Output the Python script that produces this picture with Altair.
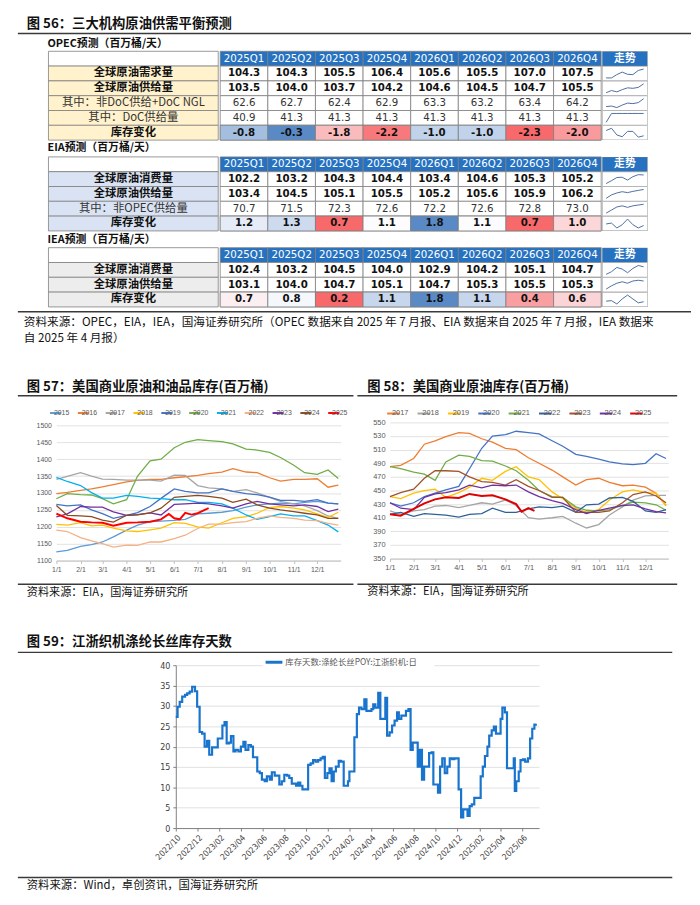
import altair as alt
import numpy as np
import pandas as pd

# ---------------- 图56 表格数据 ----------------
quarters = ["2025Q1", "2025Q2", "2025Q3", "2025Q4", "2026Q1", "2026Q2", "2026Q3", "2026Q4"]

opec_names = ["全球原油需求量", "全球原油供给量", "其中：非DoC供给+DoC NGL", "其中：DoC供给量", "库存变化"]
opec_bold = [True, True, False, False, True]
opec_demand = [104.3, 104.3, 105.5, 106.4, 105.6, 105.5, 107.0, 107.5]
opec_supply = [103.5, 104.0, 103.7, 104.2, 104.6, 104.5, 104.7, 105.5]
opec_nondoc = [62.6, 62.7, 62.4, 62.9, 63.3, 63.2, 63.4, 64.2]
opec_doc = [40.9, 41.3, 41.3, 41.3, 41.3, 41.3, 41.3, 41.3]
opec_inv = [-0.8, -0.3, -1.8, -2.2, -1.0, -1.0, -2.3, -2.0]

eia_names = ["全球原油消费量", "全球原油供给量", "其中：非OPEC供给量", "库存变化"]
eia_bold = [True, True, False, True]
eia_demand = [102.2, 103.2, 104.3, 104.4, 103.4, 104.6, 105.3, 105.2]
eia_supply = [103.4, 104.5, 105.1, 105.5, 105.2, 105.6, 105.9, 106.2]
eia_nonopec = [70.7, 71.5, 72.3, 72.6, 72.2, 72.6, 72.8, 73.0]
eia_inv = [1.2, 1.3, 0.7, 1.1, 1.8, 1.1, 0.7, 1.0]

iea_names = ["全球原油消费量", "全球原油供给量", "库存变化"]
iea_bold = [True, True, True]
iea_demand = [102.4, 103.2, 104.5, 104.0, 102.9, 104.2, 105.1, 104.7]
iea_supply = [103.1, 104.0, 104.7, 105.1, 104.7, 105.3, 105.5, 105.3]
iea_inv = [0.7, 0.8, 0.2, 1.1, 1.8, 1.1, 0.4, 0.6]

# ---------------- 图57 美国商业原油和油品库存 ----------------
semi_dates = ["01-01", "01-15", "02-01", "02-15", "03-01", "03-15", "04-01", "04-15", "05-01",
              "05-15", "06-01", "06-15", "07-01", "07-15", "08-01", "08-15", "09-01", "09-15",
              "10-01", "10-15", "11-01", "11-15", "12-01", "12-15", "12-28"]
c57_years = ["2015", "2016", "2017", "2018", "2019", "2020", "2021", "2022", "2023", "2024", "2025"]
c57_colors = ["#5B9BD5", "#ED7D31", "#A5A5A5", "#FFC000", "#4472C4", "#70AD47", "#00B0F0",
              "#F4B183", "#7030A0", "#8C4A1C", "#FF0000"]
c57_2015 = [1126, 1130, 1142, 1147, 1155, 1170, 1190, 1205, 1215, 1217, 1219, 1222, 1238, 1240, 1243, 1248, 1258, 1265, 1268, 1270, 1268, 1272, 1275, 1270, 1268]
c57_2016 = [1298, 1302, 1308, 1312, 1318, 1325, 1333, 1337, 1340, 1340, 1345, 1348, 1352, 1357, 1362, 1372, 1362, 1360, 1345, 1335, 1340, 1340, 1342, 1317, 1323]
c57_2017 = [1340, 1349, 1360, 1350, 1341, 1340, 1338, 1338, 1338, 1335, 1353, 1352, 1322, 1315, 1312, 1305, 1310, 1300, 1287, 1275, 1268, 1262, 1248, 1232, 1225]
c57_2018 = [1207, 1205, 1212, 1203, 1205, 1196, 1188, 1186, 1191, 1196, 1212, 1210, 1200, 1196, 1212, 1225, 1230, 1240, 1257, 1260, 1255, 1250, 1238, 1228, 1243]
c57_2019 = [1266, 1262, 1265, 1250, 1239, 1225, 1234, 1242, 1260, 1284, 1312, 1305, 1300, 1300, 1312, 1305, 1298, 1295, 1288, 1278, 1278, 1275, 1280, 1270, 1268]
c57_2020 = [1283, 1298, 1295, 1294, 1283, 1268, 1280, 1350, 1395, 1400, 1434, 1450, 1458, 1455, 1452, 1445, 1430, 1427, 1420, 1405, 1382, 1360, 1355, 1368, 1343]
c57_2021 = [1346, 1334, 1322, 1301, 1285, 1285, 1293, 1290, 1285, 1283, 1280, 1280, 1272, 1272, 1268, 1255, 1235, 1222, 1230, 1238, 1232, 1232, 1218, 1205, 1185]
c57_2022 = [1190, 1186, 1168, 1158, 1150, 1140, 1146, 1145, 1155, 1155, 1165, 1175, 1195, 1208, 1208, 1212, 1215, 1225, 1232, 1228, 1225, 1220, 1218, 1210, 1205]
c57_2023 = [1229, 1238, 1260, 1258, 1258, 1244, 1234, 1236, 1241, 1235, 1266, 1268, 1270, 1268, 1262, 1255, 1268, 1275, 1268, 1265, 1262, 1265, 1260, 1245, 1252]
c57_2024 = [1263, 1234, 1232, 1230, 1220, 1214, 1234, 1235, 1241, 1255, 1287, 1290, 1293, 1290, 1285, 1272, 1282, 1265, 1255, 1250, 1245, 1240, 1235, 1225, 1225]
c57_2025_dates = ["01-01", "01-15", "02-01", "02-15", "03-01", "03-15", "04-01", "04-15", "05-01",
                  "05-15", "05-25", "06-01", "06-08", "06-15", "06-23", "07-01", "07-08", "07-15"]
c57_2025 = [1239, 1225, 1215, 1213, 1212, 1203, 1212, 1213, 1215, 1222, 1238, 1225, 1222, 1241, 1236, 1240, 1248, 1255]

# ---------------- 图58 美国商业原油库存 ----------------
c58_years = ["2017", "2018", "2019", "2020", "2021", "2022", "2023", "2024", "2025"]
c58_colors = ["#ED7D31", "#A5A5A5", "#FFC000", "#4472C4", "#70AD47", "#2E6099", "#A0522D", "#7030A0", "#E00000"]
c58_2017 = [485, 487, 497, 518, 523, 529, 535, 534, 526, 521, 512, 510, 498, 490, 480, 470, 458, 466, 468, 462, 457, 458, 455, 446, 428]
c58_2018 = [420, 415, 420, 422, 427, 428, 425, 428, 432, 430, 436, 428, 410, 408, 410, 412, 402, 395, 400, 414, 426, 436, 442, 443, 443]
c58_2019 = [441, 438, 446, 450, 452, 440, 447, 455, 468, 465, 478, 485, 470, 466, 448, 438, 424, 418, 422, 436, 448, 451, 447, 446, 428]
c58_2020 = [432, 427, 432, 441, 446, 451, 456, 482, 512, 530, 532, 537, 535, 533, 523, 515, 503, 500, 496, 492, 489, 488, 490, 504, 497]
c58_2021 = [485, 482, 477, 474, 465, 492, 502, 500, 494, 493, 486, 479, 465, 450, 441, 440, 426, 421, 420, 422, 428, 433, 432, 429, 421]
c58_2022 = [415, 418, 412, 416, 415, 414, 411, 415, 416, 424, 418, 418, 423, 426, 425, 427, 418, 429, 430, 439, 440, 434, 420, 418, 422]
c58_2023 = [441, 447, 452, 468, 479, 479, 478, 470, 463, 462, 458, 466, 456, 450, 440, 440, 418, 418, 418, 420, 432, 444, 448, 442, 432]
c58_2024 = [432, 424, 422, 440, 445, 447, 451, 458, 454, 458, 457, 458, 448, 441, 435, 431, 422, 416, 421, 424, 428, 429, 423, 419, 417]
c58_2025_dates = ["01-01", "01-15", "02-01", "02-15", "03-01", "03-15", "04-01", "04-15", "05-01",
                  "05-15", "06-01", "06-15", "06-22", "07-01", "07-09"]
c58_2025 = [415, 413, 423, 431, 437, 440, 439, 445, 442, 443, 437, 430, 419, 424, 420]

# ---------------- 图59 江浙织机涤纶长丝库存天数 ----------------
c59_label = "库存天数:涤纶长丝POY:江浙织机:日"
c59_start = "2022-10-01"
c59_days = [0, 5, 11, 18, 26, 32, 39, 46, 54, 60, 67, 74, 81, 88, 94, 102, 111, 118, 128, 131,
            137, 143, 150, 155, 162, 168, 176, 183, 190, 196, 204, 211, 217, 224, 229, 236, 242, 250, 256, 264,
            270, 278, 285, 291, 298, 305, 313, 319, 326, 331, 338, 344, 350, 356, 363, 368, 372, 379, 386, 393,
            400, 407, 413, 419, 426, 432, 438, 444, 450, 458, 464, 472, 478, 484, 488,
            502, 509, 515, 522, 530, 536, 543, 550, 555, 561, 569, 575, 583, 589, 594, 601, 608, 615, 622, 627,
            634, 641, 647, 654, 660, 666, 673, 680, 686, 692, 698, 706, 712, 719, 724, 731, 737, 743, 749, 756,
            763, 770, 777, 783, 789, 795, 802, 808, 814, 820, 826, 832, 839, 846, 851, 857, 863, 869, 876, 881,
            888, 894, 900, 906, 913, 918, 925, 931, 937, 943, 950, 953, 957, 964, 969, 976, 982, 990, 996, 1002,
            1008, 1012]
c59_vals = [27.3, 29.8, 31, 32.3, 32.7, 33.1, 33.5, 34.7, 33.6, 29.8, 23.6, 23.2, 20, 21.4, 18, 19.8, 19.8, 22, 22, 25.2,
            26, 20.8, 21, 22.6, 18.8, 19.2, 18.8, 20, 21.2, 19.2, 20.4, 20, 17.4, 17.4, 13.9, 13.5, 11.9, 11.5, 12.7, 11.9,
            13.7, 12.9, 12.9, 10.7, 11.5, 13.1, 12.9, 12.3, 10.9, 10.9, 10.4, 11.2, 10.4, 9.5, 9.5, 9.5, 15.5, 15.9, 16.7, 16.3,
            16.7, 17.1, 17.5, 12.3, 13.5, 14.7, 11.5, 13.9, 15.1, 16.5, 16.3, 10.4, 10.4, 11.5, 13.9,
            22.3, 28, 29.6, 29.2, 31.6, 28.8, 28.8, 29.2, 30.4, 29.6, 33.2, 26.8, 26.8, 32, 22.7, 23.5, 25.2, 26.4, 28.4, 26.8,
            27.6, 27.6, 28.8, 29.2, 19.2, 21, 21, 15.1, 19.2, 11.9, 15.1, 15.1, 18.4, 18.6, 10.7, 10.7, 8.7, 15.1, 17.1, 13.5,
            15.1, 17.1, 16.9, 17.1, 17.1, 9.5, 2.6, 4.6, 4.6, 3.0, 5.4, 5.8, 7.4, 7.4, 7.4, 12.7, 15.1, 17.7, 20, 22.7,
            24, 24.9, 23.2, 23.2, 26.8, 29.6, 28.4, 14.7, 14.7, 14.7, 17.1, 9.1, 11.5, 13.9, 16.7, 16.9, 16.3, 17.1, 22, 24.4,
            25.4, 25.6]

# ---------------- styles ----------------
FONT_CN = "Noto Sans CJK SC"
FONT_NUM = "Liberation Sans Narrow, DejaVu Sans Condensed, Noto Sans CJK SC"
FONT_AX = "Liberation Sans, Arial, Noto Sans CJK SC"
HDR_BLUE = "#2672C0"
GRID = "#7F7F7F"
SPARK = "#4E6FA0"
HEAT = ["#F8696B", "#FCFCFF", "#5A8AC6"]
BAND = alt.Scale(paddingInner=0, paddingOuter=0)
RULE_C = "#3A3A3A"
BLUE59 = "#1874CD"


def vc(*charts):
    return alt.vconcat(*charts, spacing=0).resolve_scale(color="independent")


def hc(*charts):
    return alt.hconcat(*charts, spacing=0).resolve_scale(color="independent")


def blank(w, h):
    return alt.Chart(pd.DataFrame({"a": [0]})).mark_rect(opacity=0).encode(
        x=alt.value(0), x2=alt.value(w), y=alt.value(0), y2=alt.value(h)).properties(width=w, height=h)


def tpanel(w, h, texts=(), rules=()):
    layers = []
    for t in texts:
        s, x, y, size, weight = t[:5]
        font = t[5] if len(t) > 5 else FONT_CN
        layers.append(
            alt.Chart(pd.DataFrame({"t": [s]})).mark_text(
                align="left", baseline="middle", fontSize=size, fontWeight=weight,
                color="#111111", font=font).encode(text="t:N", x=alt.value(x), y=alt.value(y)))
    for (x1, x2, y, sw) in rules:
        layers.append(
            alt.Chart(pd.DataFrame({"a": [0]})).mark_rule(color=RULE_C, strokeWidth=sw).encode(
                x=alt.value(x1), x2=alt.value(x2), y=alt.value(y)))
    return alt.layer(*layers).properties(width=w, height=h)


def make_table(names, series, bold, fill):
    rows = [f"r{i}" for i in range(len(names) + 1)]
    H = 15 * len(rows)
    yenc = alt.Y("row:N", sort=rows, axis=None, scale=BAND)
    lab = pd.DataFrame({"row": rows, "c": "c", "t": [""] + names,
                        "kind": ["hdr"] + ["lab"] * len(names),
                        "w": ["n"] + ["b" if b else "n" for b in bold]})
    xl = alt.X("c:N", axis=None, scale=BAND)
    lab_rect = alt.Chart(lab).mark_rect(stroke=GRID, strokeWidth=0.8).encode(
        x=xl, y=yenc, color=alt.Color("kind:N", scale=alt.Scale(domain=["hdr", "lab"], range=["#FFFFFF", fill]), legend=None))
    lab_b = alt.Chart(lab).transform_filter("datum.w == 'b'").mark_text(
        font=FONT_CN, fontSize=11.5, fontWeight="bold", color="#111111").encode(x=xl, y=yenc, text="t:N")
    lab_n = alt.Chart(lab).transform_filter("datum.w == 'n'").mark_text(
        font=FONT_CN, fontSize=11.5, color="#333333").encode(x=xl, y=yenc, text="t:N")
    lab_chart = alt.layer(lab_rect, lab_b, lab_n).properties(width=172, height=H)

    recs = []
    for q in quarters:
        recs.append({"row": "r0", "col": q, "txt": q, "kind": "hdr", "w": "h", "num": 0.0})
    for i, s in enumerate(series):
        kind = "inv" if i == len(series) - 1 else "val"
        for j, q in enumerate(quarters):
            recs.append({"row": f"r{i + 1}", "col": q, "txt": f"{s[j]:.1f}", "kind": kind,
                         "w": "b" if bold[i] else "n", "num": s[j]})
    df = pd.DataFrame(recs)
    inv = series[-1]
    dom = [float(np.min(inv)), float(np.median(inv)), float(np.max(inv))]
    xv = alt.X("col:N", sort=quarters, axis=None, scale=BAND)
    cells = alt.Chart(df).mark_rect(stroke=GRID, strokeWidth=0.8).encode(
        x=xv, y=yenc, color=alt.Color("kind:N", scale=alt.Scale(domain=["hdr", "val", "inv"], range=[HDR_BLUE, "#FFFFFF", "#FFFFFF"]), legend=None))
    heat = alt.Chart(df).transform_filter("datum.kind == 'inv'").mark_rect(stroke=GRID, strokeWidth=0.8).encode(
        x=xv, y=yenc, color=alt.Color("num:Q", scale=alt.Scale(domain=dom, range=HEAT, interpolate="rgb"), legend=None))
    t_h = alt.Chart(df).transform_filter("datum.w == 'h'").mark_text(
        font=FONT_NUM, fontSize=11.5, color="white").encode(x=xv, y=yenc, text="txt:N")
    t_b = alt.Chart(df).transform_filter("datum.w == 'b'").mark_text(
        font=FONT_NUM, fontSize=11.5, fontWeight="bold", color="#111111").encode(x=xv, y=yenc, text="txt:N")
    t_n = alt.Chart(df).transform_filter("datum.w == 'n'").mark_text(
        font=FONT_NUM, fontSize=11.5, color="#333333").encode(x=xv, y=yenc, text="txt:N")
    val_chart = alt.layer(cells, heat, t_h, t_b, t_n).resolve_scale(color="independent").properties(width=386, height=H)

    d1 = pd.DataFrame({"c": ["c"], "t": ["走势"]})
    hx = alt.X("c:N", axis=None, scale=BAND)
    hy = alt.Y("c:N", axis=None, scale=BAND)
    hdr = alt.layer(
        alt.Chart(d1).mark_rect(fill=HDR_BLUE, stroke=GRID, strokeWidth=0.8, clip=True).encode(x=hx, y=hy),
        alt.Chart(d1).mark_text(font=FONT_CN, fontSize=11, fontWeight="bold", color="white").encode(x=hx, y=hy, text="t:N"),
    ).properties(width=46, height=15)
    cols = [hdr]
    for s in series:
        bg = alt.Chart(pd.DataFrame({"c": ["c"]})).mark_rect(fill="white", stroke=GRID, strokeWidth=0.8, clip=True).encode(x=hx, y=hy)
        ln = alt.Chart(pd.DataFrame({"i": list(range(8)), "v": s})).mark_line(color=SPARK, strokeWidth=1).encode(
            x=alt.X("i:Q", axis=None, scale=alt.Scale(nice=False, zero=False, padding=4)),
            y=alt.Y("v:Q", axis=None, scale=alt.Scale(nice=False, zero=False, padding=3)))
        cols.append(alt.layer(bg, ln).resolve_scale(x="independent", y="independent").properties(width=46, height=15))
    trend = vc(*cols)
    return hc(blank(40, 10), lab_chart, val_chart, trend)


def legend_panel(years, colors, w, h, fs, L, sym_dx, txt_dx, yc):
    d = pd.DataFrame({"year": years})
    x = alt.X("year:N", sort=years, axis=None, scale=alt.Scale(paddingInner=0, paddingOuter=0))
    col = alt.Color("year:N", scale=alt.Scale(domain=years, range=colors), legend=None)
    sym = alt.Chart(d).mark_point(shape="stroke", size=L * L, strokeWidth=2, filled=False, opacity=1,
                                  dx=sym_dx).encode(x=x, y=alt.value(yc), color=col)
    txt = alt.Chart(d).mark_text(align="left", baseline="middle", dx=txt_dx, fontSize=fs, color="#595959",
                                 font=FONT_AX).encode(x=x, y=alt.value(yc), text="year:N")
    return alt.layer(sym, txt).properties(width=w, height=h)


# ---------------- 图56 ----------------
pA = tpanel(692, 24, texts=[("图 56：三大机构原油供需平衡预测", 19, 10, 13.5, "bold")], rules=[(10, 692, 20, 1.5)])
pB = tpanel(692, 13, texts=[("OPEC预测（百万桶/天）", 40, 6.5, 11, "bold")])
pC = make_table(opec_names, [opec_demand, opec_supply, opec_nondoc, opec_doc, opec_inv], opec_bold, "#FFF2CC")
pD = tpanel(692, 15, texts=[("EIA预测（百万桶/天）", 40, 7.5, 11, "bold")])
pE = make_table(eia_names, [eia_demand, eia_supply, eia_nonopec, eia_inv], eia_bold, "#DAE3F3")
pF = tpanel(692, 15, texts=[("IEA预测（百万桶/天）", 40, 8, 11, "bold")])
pG = make_table(iea_names, [iea_demand, iea_supply, iea_inv], iea_bold, "#EDEDED")
pH = tpanel(692, 64, texts=[
    ("资料来源：OPEC，EIA，IEA，国海证券研究所（OPEC 数据来自 2025 年 7 月报、EIA 数据来自 2025 年 7 月报，IEA 数据来", 16, 14.5, 11.8, "normal"),
    ("自 2025 年 4 月报）", 16, 30.5, 11.8, "normal")], rules=[(10, 692, 4, 1.5)])

# ---------------- 图57 / 图58 ----------------
month_ticks = [alt.DateTime(year=2021, month=m, date=1) for m in range(1, 13)]
year_dom = alt.Scale(domain=[alt.DateTime(year=2021, month=1, date=1), alt.DateTime(year=2021, month=12, date=31)])


def seasonal_df(years, arrays, last_dates, last_vals):
    recs = []
    for y, arr in zip(years[:-1], arrays):
        for d, v in zip(semi_dates, arr):
            recs.append({"date": f"2021-{d}", "year": y, "v": v})
    for d, v in zip(last_dates, last_vals):
        recs.append({"date": f"2021-{d}", "year": years[-1], "v": v})
    return pd.DataFrame(recs)


def seasonal_chart(df, years, colors, ydom, ystep, w, h, fs):
    xax = alt.Axis(values=month_ticks, format="%-m/%-d", title=None, grid=False, labelFontSize=fs,
                   labelColor="#595959", labelFont=FONT_AX, domainColor="#BFBFBF", tickColor="#BFBFBF",
                   tickSize=3, labelPadding=2, labelFlush=False, labelOverlap=False)
    yax = alt.Axis(values=list(range(ydom[0], ydom[1] + 1, ystep)), format="d", title=None, domain=False,
                   ticks=False, gridColor="#D9D9D9", gridWidth=0.8, labelFontSize=fs, labelColor="#595959",
                   labelFont=FONT_AX, labelPadding=5)
    return alt.Chart(df).mark_line().encode(
        x=alt.X("date:T", scale=year_dom, axis=xax),
        y=alt.Y("v:Q", scale=alt.Scale(domain=list(ydom), nice=False, zero=False), axis=yax),
        color=alt.Color("year:N", scale=alt.Scale(domain=years, range=colors), legend=None),
        strokeWidth=alt.condition(f"datum.year == '{years[-1]}'", alt.value(2), alt.value(1.3)),
    ).properties(width=w, height=h)


df57 = seasonal_df(c57_years, [c57_2015, c57_2016, c57_2017, c57_2018, c57_2019, c57_2020, c57_2021,
                               c57_2022, c57_2023, c57_2024], c57_2025_dates, c57_2025)
ch57 = seasonal_chart(df57, c57_years, c57_colors, (1100, 1500), 50, 288, 137, 7)
block57 = vc(
    tpanel(352, 35, texts=[("图 57：美国商业原油和油品库存(百万桶)", 19, 16, 13.5, "bold")], rules=[(10, 350, 25, 1.5)]),
    hc(blank(34, 16), legend_panel(c57_years, c57_colors, 310, 16, 7, 11, -8.3, -1.6, 7.5)),
    hc(blank(28, 10), ch57),
    tpanel(352, 29, texts=[("资料来源：EIA，国海证券研究所", 19, 21, 11.3, "normal")], rules=[(10, 350, 12, 1.5)]))

df58 = seasonal_df(c58_years, [c58_2017, c58_2018, c58_2019, c58_2020, c58_2021, c58_2022, c58_2023,
                               c58_2024], c58_2025_dates, c58_2025)
ch58 = seasonal_chart(df58, c58_years, c58_colors, (350, 550), 20, 282, 138, 7.5)
block58 = vc(
    tpanel(332, 34, texts=[("图 58：美国商业原油库存(百万桶)", 12, 16, 13.5, "bold")], rules=[(2, 326, 25, 1.5)]),
    hc(blank(23, 14), legend_panel(c58_years, c58_colors, 277, 14, 7.5, 12.5, -8.9, -1.4, 9)),
    hc(blank(17, 10), ch58),
    tpanel(332, 29, texts=[("资料来源：EIA，国海证券研究所", 12, 21, 11.3, "normal")], rules=[(2, 326, 13, 1.5)]))

row2 = hc(block57, block58)

# ---------------- 图59 ----------------
d59 = pd.DataFrame({
    "date": (pd.Timestamp(c59_start) + pd.to_timedelta(c59_days, unit="D")).strftime("%Y-%m-%d"),
    "v": c59_vals})
ticks59 = []
yy, mm = 2022, 10
while (yy, mm) <= (2025, 6):
    ticks59.append(alt.DateTime(year=yy, month=mm, date=1))
    mm += 2
    if mm > 12:
        mm -= 12
        yy += 1
line59 = alt.Chart(d59).mark_line(interpolate="step-after", strokeWidth=2.2, color=BLUE59).encode(
    x=alt.X("date:T",
            scale=alt.Scale(domain=[alt.DateTime(year=2022, month=10, date=1), alt.DateTime(year=2025, month=7, date=18)]),
            axis=alt.Axis(values=ticks59, format="%Y/%m", title=None, grid=False, labelAngle=-45,
                          labelFontSize=8.5, labelColor="#404040", labelFont=FONT_NUM, domainColor="#7F7F7F",
                          tickColor="#7F7F7F", tickSize=3, labelFlush=False, labelOverlap=False, labelPadding=2)),
    y=alt.Y("v:Q", scale=alt.Scale(domain=[0, 40], nice=False),
            axis=alt.Axis(values=list(range(0, 41, 5)), title=None, gridColor="#D9D9D9", gridWidth=0.8,
                          domainColor="#7F7F7F", tickColor="#7F7F7F", tickSize=3, labelFontSize=9,
                          labelColor="#404040", labelFont=FONT_NUM, labelPadding=3)))
one = pd.DataFrame({"t": [c59_label]})
leg_bg = alt.Chart(one).mark_rect(fill="white").encode(x=alt.value(88), x2=alt.value(262), y=alt.value(-8), y2=alt.value(3))
leg_sym = alt.Chart(one).mark_rule(color=BLUE59, strokeWidth=3).encode(x=alt.value(91), x2=alt.value(108), y=alt.value(-3))
leg_txt = alt.Chart(one).mark_text(align="left", baseline="middle", fontSize=8.5, color="#595959", font=FONT_CN).encode(
    x=alt.value(111), y=alt.value(-3), text="t:N")
ch59 = alt.layer(line59, leg_bg, leg_sym, leg_txt).properties(width=368, height=165)

block59 = vc(
    tpanel(692, 57, texts=[("图 59：江浙织机涤纶长丝库存天数", 19, 42, 13.5, "bold")], rules=[(10, 673, 52, 1.5)]),
    hc(blank(147, 10), ch59),
    tpanel(692, 31, texts=[("资料来源：Wind，卓创资讯，国海证券研究所", 19, 25, 11.5, "normal")], rules=[(10, 673, 16, 1.5)]))

chart = alt.vconcat(pA, pB, pC, pD, pE, pF, pG, pH, row2, block59, spacing=0, padding=0).resolve_scale(
    color="independent").configure_view(stroke=None)

chart.save("out.html", embed_options={"renderer": "svg", "actions": False})
